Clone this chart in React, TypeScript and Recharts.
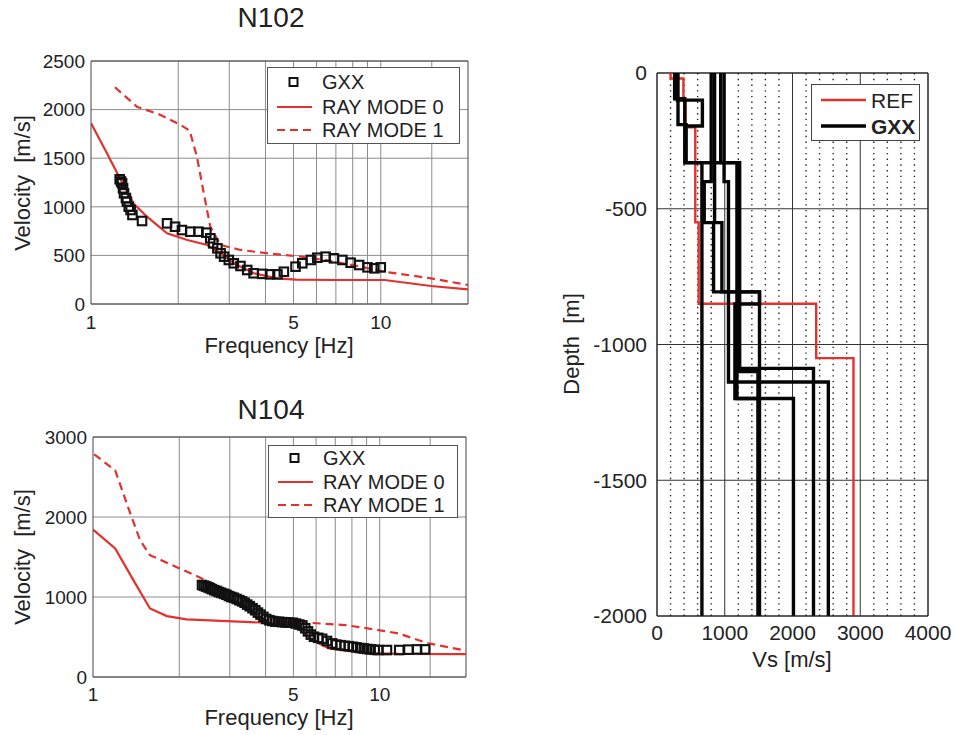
import React from 'react';
import {
  ComposedChart,
  Line,
  Scatter,
  XAxis,
  YAxis,
  CartesianGrid,
  ReferenceLine
} from 'recharts';

const FONT = '"Liberation Sans", Arial, Helvetica, sans-serif';
const RED = '#e3312d';
const INK = '#222';
const GRID = '#8c8c8c';

type Pair = [number, number];

// log frequency axis shared by both dispersion panels
const freqTicks = [1, 5, 10];
const freqGrid = [2, 3, 4, 5, 6, 7, 8, 9, 10, 15];

// N102: [frequency Hz, velocity m/s]
const n102Mode0: Pair[] = [
  [1, 1860], [1.12, 1585], [1.25, 1310], [1.4, 1036], [1.56, 898], [1.83, 727],
  [2.15, 659], [2.52, 607], [2.8, 522], [3.11, 419], [3.65, 316], [4.4, 264],
  [5.1, 250], [7, 247], [10.3, 247], [14.9, 185], [20, 151]
];
const n102Mode1: Pair[] = [
  [1.21, 2230], [1.44, 2030], [1.74, 1945], [2.04, 1842], [2.19, 1783], [2.32, 1516],
  [2.45, 1139], [2.58, 795], [2.8, 607], [3.28, 556], [4.06, 522], [5.29, 487],
  [6.5, 450], [8.5, 385], [10.3, 332], [14.9, 264], [20, 196]
];
const n102Gxx: Pair[] = [
  [1.256, 1283], [1.27, 1260], [1.28, 1242], [1.29, 1190], [1.3, 1139], [1.32, 1090],
  [1.33, 1053], [1.35, 1001], [1.37, 967], [1.39, 916], [1.5, 854], [1.83, 830],
  [1.95, 795], [2.06, 761], [2.2, 744], [2.35, 744], [2.5, 734], [2.58, 676],
  [2.64, 624], [2.73, 573], [2.8, 522], [2.88, 487], [2.99, 453], [3.11, 419],
  [3.28, 391], [3.46, 350], [3.64, 316], [3.9, 310], [4.15, 305], [4.4, 305],
  [4.63, 332], [5.08, 384], [5.36, 419], [5.74, 453], [6.04, 476], [6.45, 487],
  [6.89, 470], [7.37, 453], [7.87, 425], [8.42, 401], [9.0, 377], [9.5, 367], [10, 377]
];

// N104
const n104Mode0: Pair[] = [
  [1, 1843], [1.195, 1606], [1.383, 1211], [1.58, 857], [1.81, 761], [2.12, 720],
  [3.07, 695], [4.01, 678], [4.97, 649], [5.5, 540], [5.82, 462], [6.65, 358],
  [8.7, 303], [11.7, 290], [20, 285]
];
const n104Mode1: Pair[] = [
  [1.01, 2783], [1.195, 2583], [1.35, 2043], [1.46, 1710], [1.58, 1523], [2.01, 1356],
  [2.62, 1169], [3.07, 950], [4.02, 711], [5.0, 680], [5.67, 678], [7.6, 649],
  [9.9, 587], [11.6, 545], [14.8, 420], [20, 330]
];
const n104Gxx: Pair[] = [
  [2.4, 1150], [2.44, 1140], [2.48, 1130], [2.52, 1120], [2.56, 1110], [2.6, 1098],
  [2.65, 1085], [2.7, 1075], [2.75, 1062], [2.8, 1052], [2.86, 1040], [2.92, 1028],
  [2.98, 1012], [3.04, 1000], [3.1, 990], [3.17, 975], [3.24, 960], [3.31, 945],
  [3.38, 928], [3.45, 905], [3.52, 885], [3.6, 860], [3.68, 835], [3.76, 805],
  [3.84, 780], [3.93, 752], [4.02, 725], [4.12, 710], [4.22, 700], [4.33, 692],
  [4.45, 690], [4.57, 686], [4.7, 682], [4.83, 680], [4.97, 678], [5.1, 668],
  [5.24, 656], [5.37, 645], [5.5, 610], [5.62, 570], [5.75, 530], [5.9, 503],
  [6.1, 490], [6.3, 478], [6.55, 450], [6.83, 420], [7.05, 405], [7.3, 398],
  [7.55, 390], [7.8, 385], [8.05, 378], [8.3, 370], [8.55, 362], [8.8, 356],
  [9.05, 350], [9.3, 345], [9.6, 340], [9.87, 337], [10.6, 337], [11.7, 337],
  [12.6, 342], [13.5, 345], [14.4, 345]
];

// Vs profiles: [layer top depth m, Vs m/s], last layer runs to -2000
const DEPTH_MIN = -2000;
const refProfile: Pair[] = [
  [0, 200], [-20, 390], [-100, 420], [-200, 565], [-550, 615], [-850, 2350], [-1050, 2900]
];
const gxx1: Pair[] = [[0, 300], [-100, 670], [-195, 420], [-330, 1200], [-1088, 2310]];
const gxx2: Pair[] = [[0, 310], [-190, 430], [-330, 1180], [-1199, 2014]];
const gxx3: Pair[] = [[0, 260], [-95, 410], [-330, 663]];
const gxx4: Pair[] = [[0, 800], [-400, 697], [-551, 835], [-806, 1513]];
const gxx5: Pair[] = [[0, 990], [-400, 1055], [-1138, 2529]];
const gxx6: Pair[] = [[0, 850], [-551, 958], [-806, 1513], [-851, 1150], [-1199, 1500]];
const gxx7: Pair[] = [[0, 940], [-330, 1220], [-1100, 1490]];
const gxxProfiles = [gxx1, gxx2, gxx3, gxx4, gxx5, gxx6, gxx7];

const vsTicks = [0, 1000, 2000, 3000, 4000];
const vsMinor = [200, 400, 600, 800, 1200, 1400, 1600, 1800, 2200, 2400, 2600, 2800, 3200, 3400, 3600, 3800];
const depthTicks = [0, -500, -1000, -1500, -2000];

const toPts = (rows: Pair[]) => rows.map(([f, v]) => ({ f, v }));

const toSteps = (layers: Pair[]) => {
  const pts: { vs: number; depth: number }[] = [];
  layers.forEach(([top, vs], i) => {
    const bottom = i + 1 < layers.length ? layers[i + 1][0] : DEPTH_MIN;
    pts.push({ vs, depth: top }, { vs, depth: bottom });
  });
  return pts;
};

const Square = (p: any) => (
  <rect x={p.cx - 4.25} y={p.cy - 4.25} width={8.5} height={8.5} fill="none" stroke="#111" strokeWidth={2.1} />
);

const Caption = ({ x, y, fs, text, rotate }: { x: number; y: number; fs: number; text: string; rotate?: boolean }) => (
  <div
    style={{
      position: 'absolute',
      left: x,
      top: y,
      transform: `translate(-50%, -50%)${rotate ? ' rotate(-90deg)' : ''}`,
      fontSize: fs,
      lineHeight: 1,
      whiteSpace: 'pre',
      color: INK
    }}
  >
    {text}
  </div>
);

const DispersionLegend = ({ left, top, w, h, rows }: { left: number; top: number; w: number; h: number; rows: number[] }) => (
  <svg width={w} height={h} style={{ position: 'absolute', left, top, fontFamily: FONT }}>
    <rect x={0.5} y={0.5} width={w - 1} height={h - 1} fill="#fff" stroke="#555" />
    <rect x={22.5} y={rows[0] - 4} width={8} height={8} fill="none" stroke="#111" strokeWidth={2} />
    <line x1={10} x2={45} y1={rows[1]} y2={rows[1]} stroke={RED} strokeWidth={2.2} />
    <line x1={10} x2={45} y1={rows[2]} y2={rows[2]} stroke={RED} strokeWidth={2.2} strokeDasharray="8 5" />
    {['GXX', 'RAY MODE 0', 'RAY MODE 1'].map((t, i) => (
      <text key={t} x={55} y={rows[i]} dy="0.36em" fontSize={20} fill={INK}>{t}</text>
    ))}
  </svg>
);

interface PanelProps {
  top: number;
  title: string;
  titleY: number;
  mode0: Pair[];
  mode1: Pair[];
  gxx: Pair[];
  yMax: number;
  yTicks: number[];
  marginTop: number;
  yAxisW: number;
  xAxisH: number;
  marginRight: number;
  xTickMargin: number;
  xLabelY: number;
  legend: { left: number; top: number; w: number; h: number; rows: number[] };
}

const DispersionPanel = (p: PanelProps) => {
  const tick = { fontSize: 19, fill: INK, fontFamily: FONT };
  return (
    <div style={{ position: 'absolute', left: 0, top: p.top, width: 480, height: 365 }}>
      <ComposedChart
        width={480}
        height={365}
        margin={{ top: p.marginTop, right: p.marginRight, bottom: 0, left: 0 }}
      >
        <CartesianGrid vertical={false} stroke={GRID} />
        {freqGrid.map((g) => (
          <ReferenceLine key={g} x={g} stroke={GRID} />
        ))}
        <ReferenceLine x={20} stroke="#444" />
        <ReferenceLine y={p.yMax} stroke="#444" />
        <XAxis
          dataKey="f"
          type="number"
          scale="log"
          domain={[1, 20]}
          ticks={freqTicks}
          allowDataOverflow
          height={p.xAxisH}
          tickLine={false}
          tickSize={0}
          tickMargin={p.xTickMargin}
          axisLine={{ stroke: '#444' }}
          tick={tick}
        />
        <YAxis
          dataKey="v"
          type="number"
          domain={[0, p.yMax]}
          ticks={p.yTicks}
          width={p.yAxisW}
          tickLine={false}
          tickSize={0}
          tickMargin={6}
          axisLine={{ stroke: '#444' }}
          tick={tick}
        />
        <Line data={toPts(p.mode1)} dataKey="v" stroke={RED} strokeWidth={2.2} strokeDasharray="8 5" dot={false} isAnimationActive={false} />
        <Line data={toPts(p.mode0)} dataKey="v" stroke={RED} strokeWidth={2.2} dot={false} isAnimationActive={false} />
        <Scatter data={toPts(p.gxx)} dataKey="v" shape={Square} isAnimationActive={false} />
      </ComposedChart>
      <DispersionLegend {...p.legend} />
      <Caption x={271} y={p.titleY} fs={28} text={p.title} />
      <Caption x={279} y={p.xLabelY} fs={22} text="Frequency [Hz]" />
      <Caption x={23} y={p.marginTop + (365 - p.marginTop - p.xAxisH) / 2} fs={22} text="Velocity  [m/s]" rotate />
    </div>
  );
};

const ProfileLegend = () => (
  <svg width={109} height={57} style={{ position: 'absolute', left: 331, top: 84, fontFamily: FONT }}>
    <rect x={0.5} y={0.5} width={108} height={56} fill="#fff" stroke="#444" />
    <line x1={10} x2={55} y1={16} y2={16} stroke={RED} strokeWidth={2.5} />
    <line x1={10} x2={55} y1={42} y2={42} stroke="#000" strokeWidth={3.5} />
    <text x={60} y={16} dy="0.36em" fontSize={21} fill={INK}>REF</text>
    <text x={60} y={42} dy="0.36em" fontSize={21} fontWeight="bold" fill={INK}>GXX</text>
  </svg>
);

const ProfilePanel = () => {
  const tick = { fontSize: 21, fill: INK, fontFamily: FONT };
  return (
    <div style={{ position: 'absolute', left: 480, top: 0, width: 476, height: 735 }}>
      <ComposedChart width={476} height={735} margin={{ top: 73, right: 28, bottom: 0, left: 0 }}>
        {vsMinor.map((v) => (
          <ReferenceLine key={v} x={v} stroke="#222" strokeWidth={1.4} strokeDasharray="1.4 4.3" />
        ))}
        <CartesianGrid stroke="#333" />
        <ReferenceLine x={4000} stroke="#222" />
        <ReferenceLine y={0} stroke="#222" />
        <XAxis
          dataKey="vs"
          type="number"
          domain={[0, 4000]}
          ticks={vsTicks}
          height={119}
          tickLine={false}
          tickSize={0}
          tickMargin={9}
          axisLine={{ stroke: '#222' }}
          tick={tick}
        />
        <YAxis
          dataKey="depth"
          type="number"
          domain={[DEPTH_MIN, 0]}
          ticks={depthTicks}
          width={177}
          tickLine={false}
          tickSize={0}
          tickMargin={10}
          axisLine={{ stroke: '#222' }}
          tick={tick}
        />
        <Line data={toSteps(refProfile)} dataKey="depth" stroke={RED} strokeWidth={2.4} dot={false} isAnimationActive={false} />
        {gxxProfiles.map((g, i) => (
          <Line key={i} data={toSteps(g)} dataKey="depth" stroke="#050505" strokeWidth={3.4} dot={false} isAnimationActive={false} />
        ))}
      </ComposedChart>
      <ProfileLegend />
      <Caption x={92} y={344} fs={22} text="Depth  [m]" rotate />
      <Caption x={312} y={660} fs={22} text="Vs [m/s]" />
    </div>
  );
};

export default function App() {
  return (
    <div
      style={{
        position: 'absolute',
        left: 0,
        top: 0,
        width: 956,
        height: 735,
        background: '#fff',
        fontFamily: FONT
      }}
    >
      <DispersionPanel
        top={0}
        title="N102"
        titleY={18}
        mode0={n102Mode0}
        mode1={n102Mode1}
        gxx={n102Gxx}
        yMax={2500}
        yTicks={[0, 500, 1000, 1500, 2000, 2500]}
        marginTop={61}
        yAxisW={91}
        xAxisH={61}
        marginRight={12}
        xTickMargin={12}
        xLabelY={346}
        legend={{ left: 267, top: 67, w: 193, h: 77, rows: [15, 40, 63] }}
      />
      <DispersionPanel
        top={370}
        title="N104"
        titleY={40}
        mode0={n104Mode0}
        mode1={n104Mode1}
        gxx={n104Gxx}
        yMax={3000}
        yTicks={[0, 1000, 2000, 3000]}
        marginTop={67}
        yAxisW={93}
        xAxisH={58}
        marginRight={14}
        xTickMargin={11}
        xLabelY={348}
        legend={{ left: 268, top: 75, w: 190, h: 73, rows: [13, 37, 60] }}
      />
      <ProfilePanel />
    </div>
  );
}
